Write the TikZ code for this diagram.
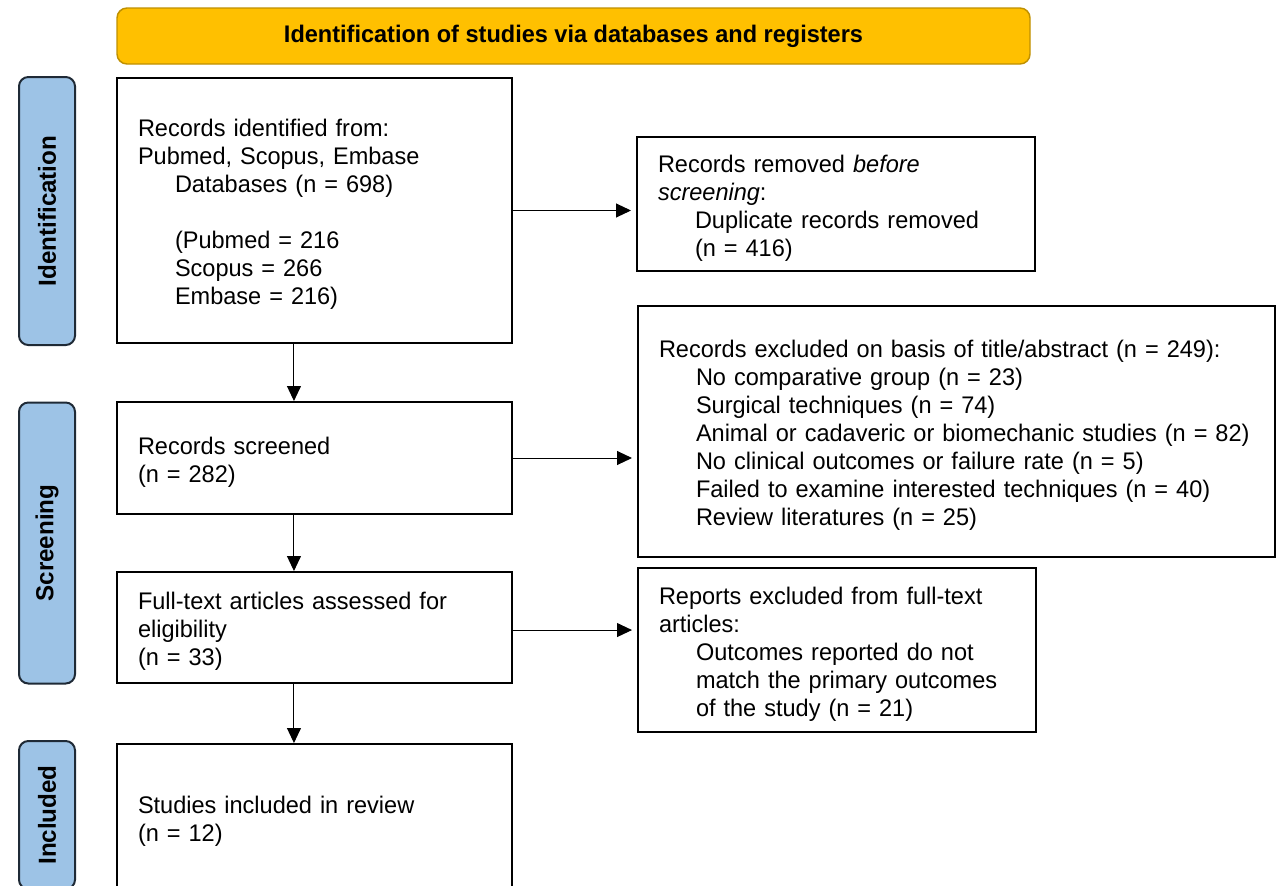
\documentclass[tikz,border=0pt]{standalone}
\usepackage{fontspec}
\setmainfont{Liberation Sans}[FakeStretch=0.98]
\usetikzlibrary{arrows.meta}
\definecolor{bannerfill}{HTML}{FFC000}
\definecolor{bannerline}{HTML}{BF9000}
\definecolor{phasefill}{HTML}{9DC3E6}
\definecolor{phaseline}{HTML}{1F2A36}
\newcommand{\ind}{\hspace*{27.75pt}}

\begin{document}
\begin{tikzpicture}[x=0.75pt, y=-0.75pt, >={Triangle[length=11.25pt, width=10.5pt]},
	every node/.style={font=\fontsize{18}{21}\selectfont},
	stagebox/.style={draw, line width=1.5pt, inner xsep=15.75pt, inner ysep=0pt, align=left, execute at begin node={\rule{0pt}{19pt}}},
	phase/.style={draw=phaseline, fill=phasefill, line width=1.5pt, rounded corners=7pt, rotate=90, inner sep=0pt, minimum height=42pt, font=\bfseries\fontsize{18.5}{21}\selectfont},
	flow/.style={->, line width=0.75pt}]
	\useasboundingbox (0,0) rectangle (1281,885);
	\clip (0,0) rectangle (1281,885);
	% banner and phases
	\node[draw=bannerline, fill=bannerfill, line width=1.1pt, rounded corners=7.5pt, minimum width=684.75pt, minimum height=42pt, font=\bfseries\fontsize{18}{21}\selectfont] (banner) at (573.5,36) {Identification of studies via databases and registers};
	\node[phase, minimum width=201pt] (idphase) at (47,211) {Identification};
	\node[phase, minimum width=210.75pt] (scrphase) at (47,543) {Screening};
	\node[phase, minimum width=111pt] (incphase) at (47,815) {Included};
	% left column
	\node[stagebox, text width=264.75pt, minimum height=198.75pt] (ident) at (314.5,210.5) {Records identified from:\\ Pubmed, Scopus, Embase\\ \ind Databases (n = 698)\\[21pt] \ind (Pubmed = 216\\ \ind Scopus = 266\\ \ind Embase = 216)};
	\node[stagebox, text width=264.75pt, minimum height=84pt] (screened) at (314.5,458) {Records screened\\ (n = 282)};
	\node[stagebox, text width=264.75pt, minimum height=83.25pt] (fulltext) at (314.5,627.5) {Full-text articles assessed for\\ eligibility\\ (n = 33)};
	\node[stagebox, text width=264.75pt, minimum height=110.25pt] (included) at (314.5,817.5) {Studies included in review\\ (n = 12)};
	% right column
	\node[stagebox, text width=267pt, minimum height=100.5pt] (removed) at (836,204) {Records removed \textit{before}\\ \textit{screening}:\\ \ind Duplicate records removed\\ \ind (n = 416)};
	\node[stagebox, text width=446.25pt, minimum height=188.25pt] (excluded) at (956.5,431.5) {Records excluded on basis of title/abstract (n = 249):\\ \ind No comparative group (n = 23)\\ \ind Surgical techniques (n = 74)\\ \ind \mbox{Animal or cadaveric or biomechanic studies (n = 82)}\\ \ind No clinical outcomes or failure rate (n = 5)\\ \ind Failed to examine interested techniques (n = 40)\\ \ind Review literatures (n = 25)};
	\node[stagebox, text width=267pt, minimum height=123pt] (reports) at (837,650) {Reports excluded from full-text\\ articles:\\ \ind Outcomes reported do not\\ \ind match the primary outcomes\\ \ind of the study (n = 21)};
	% arrows
	\draw[flow] ([xshift=-15.4pt]ident.south) -- ([xshift=-15.4pt]screened.north);
	\draw[flow] ([xshift=-15.4pt]screened.south) -- ([xshift=-15.4pt]fulltext.north);
	\draw[flow] ([xshift=-15.4pt]fulltext.south) -- ([xshift=-15.4pt]included.north);
	\draw[flow, shorten >=3.75pt] (ident.east) -- (ident.east -| removed.west);
	\draw[flow, shorten >=3.75pt] (screened.east) -- (screened.east -| excluded.west);
	\draw[flow, shorten >=3.75pt] ([yshift=-1.9pt]fulltext.east) -- ([yshift=-1.9pt]fulltext.east -| reports.west);
\end{tikzpicture}
\end{document}
